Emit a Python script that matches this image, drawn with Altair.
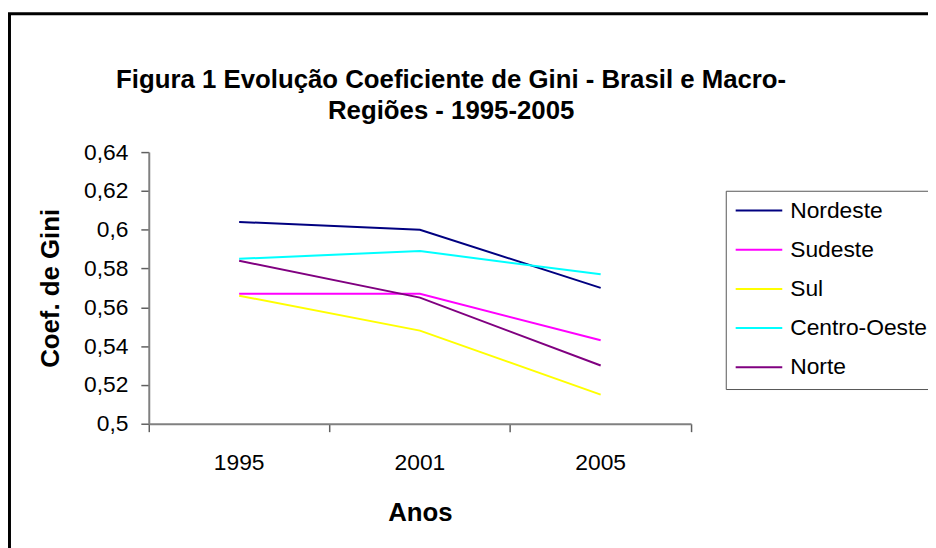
import altair as alt
import pandas as pd

years = ["1995", "2001", "2005"]
regions = ["Nordeste", "Sudeste", "Sul", "Centro-Oeste", "Norte"]
nordeste = [0.604, 0.600, 0.570]
sudeste = [0.567, 0.567, 0.543]
sul = [0.566, 0.548, 0.515]
centro_oeste = [0.585, 0.589, 0.577]
norte = [0.584, 0.565, 0.530]
colors = ["#000080", "#FF00FF", "#FFFF00", "#00FFFF", "#800080"]
y_ticks = [0.50, 0.52, 0.54, 0.56, 0.58, 0.60, 0.62, 0.64]
title_lines = ["Figura 1 Evolução Coeficiente de Gini - Brasil e Macro-", "Regiões - 1995-2005"]

series = [nordeste, sudeste, sul, centro_oeste, norte]
rows = []
for name, vals in zip(regions, series):
    for yr, v in zip(years, vals):
        rows.append({"Ano": yr, "Regiao": name, "Gini": v})
df = pd.DataFrame(rows)

FONT = "Liberation Sans"
W, H = 547, 274
PAD_L, PAD_T = 142, 143

lines = alt.Chart(df).mark_line(strokeWidth=2).encode(
    x=alt.X(
        "Ano:N",
        sort=years,
        bandPosition=0.5,
        scale=alt.Scale(type="band", paddingInner=0, paddingOuter=0),
        axis=alt.Axis(
            title="Anos",
            labelAngle=0,
            bandPosition=1,
            tickExtra=True,
            tickSize=8,
            labelPadding=20,
            labelFontSize=23,
            labelFont=FONT,
            labelColor="#000",
            titleFont=FONT,
            titleFontSize=26,
            titleFontWeight="bold",
            titlePadding=26,
            titleColor="#000",
            domainColor="#808080",
            domainWidth=2,
            tickColor="#606060",
            tickWidth=1.5,
            grid=False,
        ),
    ),
    y=alt.Y(
        "Gini:Q",
        scale=alt.Scale(domain=[0.5, 0.64], nice=False, zero=False),
        axis=alt.Axis(
            title="Coef. de Gini",
            values=y_ticks,
            labelExpr="replace(format(datum.value, '.2~f'), '.', ',')",
            tickSize=8,
            labelPadding=13,
            labelFontSize=23,
            labelFont=FONT,
            labelColor="#000",
            titleFont=FONT,
            titleFontSize=26,
            titleFontWeight="bold",
            titlePadding=20,
            titleColor="#000",
            domainColor="#808080",
            domainWidth=2,
            tickColor="#606060",
            tickWidth=1.5,
            grid=False,
        ),
    ),
    color=alt.Color(
        "Regiao:N",
        sort=regions,
        scale=alt.Scale(domain=regions, range=colors),
        legend=alt.Legend(
            title=None,
            orient="none",
            legendX=582,
            legendY=39,
            symbolType="stroke",
            symbolSize=2304,
            symbolStrokeWidth=2,
            symbolOffset=-2,
            labelFontSize=23,
            labelFont=FONT,
            labelColor="#000",
            labelOffset=7,
            clipHeight=20,
            rowPadding=16.5,
            padding=10,
            strokeColor="#555555",
            fillColor="#FFFFFF",
        ),
    ),
)

frame_df = pd.DataFrame({"k": [0]})
frame = alt.Chart(frame_df).mark_rect(
    fill=None, stroke="#000000", strokeWidth=3
).encode(
    x=alt.value(9.5 - 8 - PAD_L),
    y=alt.value(11.5 - 8 - PAD_T),
    x2=alt.value(1200),
    y2=alt.value(1200),
)

title_df = pd.DataFrame({"line": title_lines})
title1 = alt.Chart(title_df).transform_filter(alt.datum.line == title_lines[0]).mark_text(
    font=FONT, fontSize=26, fontWeight="bold", color="#000", align="center", baseline="middle"
).encode(
    text="line:N",
    x=alt.value(455 - 8 - PAD_L),
    y=alt.value(78 - 8 - PAD_T),
)
title2 = alt.Chart(title_df).transform_filter(alt.datum.line == title_lines[1]).mark_text(
    font=FONT, fontSize=26, fontWeight="bold", color="#000", align="center", baseline="middle"
).encode(
    text="line:N",
    x=alt.value(455 - 8 - PAD_L),
    y=alt.value(110 - 8 - PAD_T),
)

chart = alt.layer(frame, title1, title2, lines).properties(
    width=W,
    height=H,
    background="#FFFFFF",
    autosize=alt.AutoSizeParams(type="none"),
    padding={"left": PAD_L, "top": PAD_T, "right": 936 - 8 - PAD_L - W, "bottom": 548 - 8 - PAD_T - H},
).configure_view(stroke="transparent", strokeWidth=0)

chart.save("out.html", embed_options={"renderer": "svg", "actions": False})
